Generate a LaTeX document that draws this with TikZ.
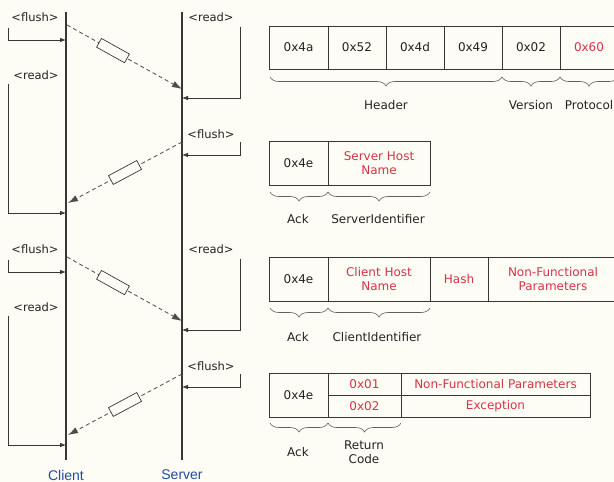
\documentclass[tikz,border=0pt]{standalone}
\usepackage{fontspec}
\setmainfont{DejaVu Sans}
\newfontfamily\labfont{Liberation Sans}
\usetikzlibrary{arrows.meta,decorations.pathreplacing}
\definecolor{bg}{RGB}{253,253,246}
\definecolor{ln}{RGB}{55,55,55}
\definecolor{tx}{RGB}{35,35,35}
\definecolor{rd}{RGB}{215,50,70}
\definecolor{bl}{RGB}{35,75,160}
\begin{document}
\begin{tikzpicture}[x=1pt,y=-1pt,
  font=\fontsize{11.5}{13}\selectfont,
  life/.style={draw=ln,line width=1.2pt},
  brk/.style={draw=ln,line width=0.8pt,-{Latex[length=6pt,width=4.5pt]}},
  msg/.style={draw=ln!90,line width=0.8pt,dash pattern=on 4pt off 3pt,-{Latex[length=10pt,width=6.5pt]}},
  pkt/.style={draw=ln,fill=bg,sloped,minimum width=32pt,minimum height=10pt,inner sep=0pt,line width=0.7pt,solid},
  tag/.style={text=tx,inner sep=0pt},
  who/.style={text=bl,font=\labfont\fontsize{14}{16}\selectfont,inner sep=0pt},
  cell/.style={draw=ln,line width=0.8pt,anchor=north west,inner sep=0pt,outer sep=0pt,align=center,text=tx,font=\fontsize{12}{14}\selectfont},
  red/.style={text=rd},
  brc/.style={draw=ln!80,line width=0.6pt,decorate,decoration={brace,mirror,amplitude=9pt}},
  blab/.style={text=tx,inner sep=0pt,align=center,font=\fontsize{12}{14.5}\selectfont}]
\useasboundingbox (0,0) rectangle (614,482);
\clip (0,0) rectangle (614,482);
\fill[bg] (0,0) rectangle (614,482);

% lifelines
\coordinate (ctop) at (66,12); \coordinate (cbot) at (66,460);
\coordinate (stop) at (182,12); \coordinate (sbot) at (182,460);
\draw[life] (ctop) -- (cbot);
\draw[life] (stop) -- (sbot);
\node[who] (client) at (66,475) {Client};
\node[who] (server) at (182,475) {Server};

\foreach \o/\k in {0/a,232/b}{
  % client flush
  \node[tag] (cf\k) at (35,17+\o) {\textless flush\textgreater};
  \coordinate (cfs\k) at (8,28+\o); \coordinate (cfe\k) at (66,40+\o);
  \draw[brk] (cfs\k) |- (cfe\k);
  % message client -> server
  \coordinate (mas\k) at (67,25+\o); \coordinate (mae\k) at (182,89+\o);
  \draw[msg] (mas\k) -- node[pkt,pos=0.4] (pa\k) {} (mae\k);
  % client read
  \node[tag] (cr\k) at (36,75+\o) {\textless read\textgreater};
  \coordinate (crs\k) at (8,84+\o); \coordinate (cre\k) at (66,213+\o);
  \draw[brk] (crs\k) |- (cre\k);
  % server read
  \node[tag] (sr\k) at (211,17+\o) {\textless read\textgreater};
  \coordinate (srs\k) at (240,27+\o); \coordinate (sre\k) at (182,98+\o);
  \draw[brk] (srs\k) |- (sre\k);
  % server flush
  \node[tag] (sf\k) at (211,134+\o) {\textless flush\textgreater};
  \coordinate (sfs\k) at (240,142+\o); \coordinate (sfe\k) at (182,155+\o);
  \draw[brk] (sfs\k) |- (sfe\k);
  % message server -> client
  \coordinate (mbs\k) at (182,142+\o); \coordinate (mbe\k) at (68,203+\o);
  \draw[msg] (mbs\k) -- node[pkt,pos=0.5] (pb\k) {} (mbe\k);
}

% ---- Header table
\node[cell,minimum width=59pt,minimum height=43pt] (h1) at (269,26) {0x4a};
\node[cell,minimum width=58pt,minimum height=43pt] (h2) at (328,26) {0x52};
\node[cell,minimum width=58pt,minimum height=43pt] (h3) at (386,26) {0x4d};
\node[cell,minimum width=58pt,minimum height=43pt] (h4) at (444,26) {0x49};
\node[cell,minimum width=58pt,minimum height=43pt] (h5) at (502,26) {0x02};
\node[cell,red,minimum width=58pt,minimum height=43pt] (h6) at (560,26) {0x60};
\draw[brc] (270,77) -- (502,77);
\draw[brc] (502,77) -- (560,77);
\draw[brc] (560,77) -- (618,77);
\node[blab] (lh) at (386,105) {Header};
\node[blab] (lv) at (531,105) {Version};
\node[blab] (lp) at (589,105) {Protocol};

% ---- Server ack table
\node[cell,minimum width=59pt,minimum height=44pt] (s1) at (269,141) {0x4e};
\node[cell,red,minimum width=102pt,minimum height=44pt] (s2) at (328,141) {Server Host\\Name};
\draw[brc] (270,192) -- (328,192);
\draw[brc] (328,192) -- (430,192);
\node[blab] (sa) at (298,219) {Ack};
\node[blab] (si) at (378,219) {ServerIdentifier};

% ---- Client table
\node[cell,minimum width=59pt,minimum height=44pt] (c1) at (269,257) {0x4e};
\node[cell,red,minimum width=102pt,minimum height=44pt] (c2) at (328,257) {Client Host\\Name};
\node[cell,red,minimum width=58pt,minimum height=44pt] (c3) at (430,257) {Hash};
\node[cell,red,minimum width=130pt,minimum height=44pt,text width=120pt] (c4) at (488,257) {Non-Functional\\Parameters};
\draw[brc] (270,308) -- (328,308);
\draw[brc] (328,308) -- (430,308);
\node[blab] (ca) at (298,337) {Ack};
\node[blab] (ci) at (377,337) {ClientIdentifier};

% ---- Return table
\node[cell,minimum width=59pt,minimum height=44pt] (r1) at (269,373) {0x4e};
\node[cell,red,minimum width=73pt,minimum height=22pt] (r2) at (328,373) {0x01};
\node[cell,red,minimum width=73pt,minimum height=22pt] (r3) at (328,395) {0x02};
\node[cell,red,minimum width=189pt,minimum height=22pt] (r4) at (401,373) {Non-Functional Parameters};
\node[cell,red,minimum width=189pt,minimum height=22pt] (r5) at (401,395) {Exception};
\draw[brc] (270,423) -- (328,423);
\draw[brc] (328,423) -- (401,423);
\node[blab] (ra) at (298,452) {Ack};
\node[blab] (rc) at (364,452) {Return\\Code};
\end{tikzpicture}
\end{document}
